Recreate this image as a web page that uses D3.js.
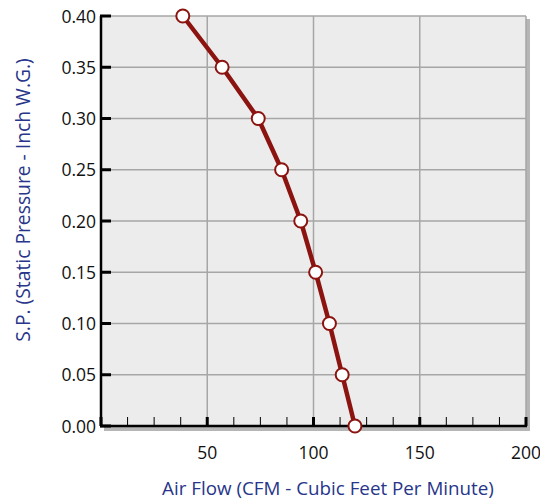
<!DOCTYPE html>
<html>
<head>
<meta charset="utf-8">
<script src="https://cdn.jsdelivr.net/npm/d3@7"></script>
<style>
  body { margin: 0; background: #fff; }
  svg { display: block; font-family: "Open Sans", sans-serif; }
</style>
</head>
<body>
<svg id="chart" width="540" height="501"></svg>
<script>
// Air flow (CFM), one per pressure step
const airFlow = [38.5, 57, 74, 85, 94, 101, 107.5, 113.5, 119.5];
// Static pressure (inch W.G.)
const pressure = [0.40, 0.35, 0.30, 0.25, 0.20, 0.15, 0.10, 0.05, 0.00];
// Tick values
const xTicks = [50, 100, 150, 200];
const xMinor = d3.range(0, 201, 12.5);
const yTicks = [0, 0.05, 0.10, 0.15, 0.20, 0.25, 0.30, 0.35, 0.40];

const svg = d3.select('#chart');

// plot box edges
const box = { left: 101, right: 526, top: 16, bottom: 426 };

const x = d3.scaleLinear().domain([0, 200]).range([box.left, box.right]);
const y = d3.scaleLinear().domain([0, 0.40]).range([box.bottom, box.top]);

// drop shadow behind the plot
svg.append('rect')
  .attr('x', box.left + 3).attr('y', box.top + 3)
  .attr('width', box.right - box.left + 1).attr('height', box.bottom - box.top + 2)
  .attr('fill', '#b6b6b6');

// plot background
svg.append('rect')
  .attr('x', box.left).attr('y', box.top)
  .attr('width', box.right - box.left).attr('height', box.bottom - box.top)
  .attr('fill', '#ececec');

// grid lines
svg.append('g').selectAll('line')
  .data(yTicks.filter(d => d > 0))
  .join('line')
  .attr('x1', box.left).attr('x2', box.right)
  .attr('y1', d => y(d)).attr('y2', d => y(d))
  .attr('stroke', '#a6a6a6').attr('stroke-width', 1.5);

svg.append('g').selectAll('line')
  .data(xTicks)
  .join('line')
  .attr('x1', d => x(d)).attr('x2', d => x(d))
  .attr('y1', box.top).attr('y2', box.bottom)
  .attr('stroke', '#a6a6a6').attr('stroke-width', 1.5);

// bottom axis: minor ticks pointing up, thicker at the labelled values
const xAxis = svg.append('g');
xAxis.selectAll('line.tick')
  .data(xMinor)
  .join('line')
  .attr('class', 'tick')
  .attr('x1', d => x(d)).attr('x2', d => x(d))
  .attr('y1', box.bottom).attr('y2', box.bottom - 9)
  .attr('stroke', '#000')
  .attr('stroke-width', d => (d % 50 === 0 ? 3 : 1));
xAxis.append('line')
  .attr('x1', box.left - 1).attr('x2', box.right + 1)
  .attr('y1', box.bottom).attr('y2', box.bottom)
  .attr('stroke', '#000').attr('stroke-width', 2.5);
xAxis.selectAll('text')
  .data(xTicks)
  .join('text')
  .attr('x', d => x(d)).attr('y', 459)
  .attr('text-anchor', 'middle')
  .attr('font-size', 17.5)
  .attr('fill', '#111')
  .text(d => d);

// left axis
const yAxis = svg.append('g');
yAxis.append('line')
  .attr('x1', box.left).attr('x2', box.left)
  .attr('y1', box.top).attr('y2', box.bottom)
  .attr('stroke', '#000').attr('stroke-width', 2.5);
yAxis.selectAll('line.tick')
  .data(yTicks)
  .join('line')
  .attr('class', 'tick')
  .attr('x1', box.left - 1).attr('x2', box.left + 10)
  .attr('y1', d => y(d)).attr('y2', d => y(d))
  .attr('stroke', '#000').attr('stroke-width', 3);
yAxis.selectAll('text')
  .data(yTicks)
  .join('text')
  .attr('x', 96).attr('y', d => y(d) + 6.5)
  .attr('text-anchor', 'end')
  .attr('font-size', 17.5)
  .attr('fill', '#111')
  .text(d => d.toFixed(2));

// axis titles
svg.append('text')
  .attr('x', 328).attr('y', 495)
  .attr('text-anchor', 'middle')
  .attr('font-size', 18.8)
  .attr('fill', '#27358a')
  .text('Air Flow (CFM - Cubic Feet Per Minute)');

svg.append('text')
  .attr('transform', 'translate(30,200) rotate(-90)')
  .attr('text-anchor', 'middle')
  .attr('font-size', 19.3)
  .attr('fill', '#27358a')
  .text('S.P. (Static Pressure - Inch W.G.)');

// curve
const pts = airFlow.map((d, i) => [d, pressure[i]]);
svg.append('path')
  .datum(pts)
  .attr('d', d3.line().x(d => x(d[0])).y(d => y(d[1])))
  .attr('fill', 'none')
  .attr('stroke', '#8c1410')
  .attr('stroke-width', 4.5)
  .attr('stroke-linejoin', 'round');

svg.append('g').selectAll('circle')
  .data(pts)
  .join('circle')
  .attr('cx', d => x(d[0])).attr('cy', d => y(d[1]))
  .attr('r', 6.5)
  .attr('fill', '#fff')
  .attr('stroke', '#8c1410')
  .attr('stroke-width', 2);
</script>
</body>
</html>
